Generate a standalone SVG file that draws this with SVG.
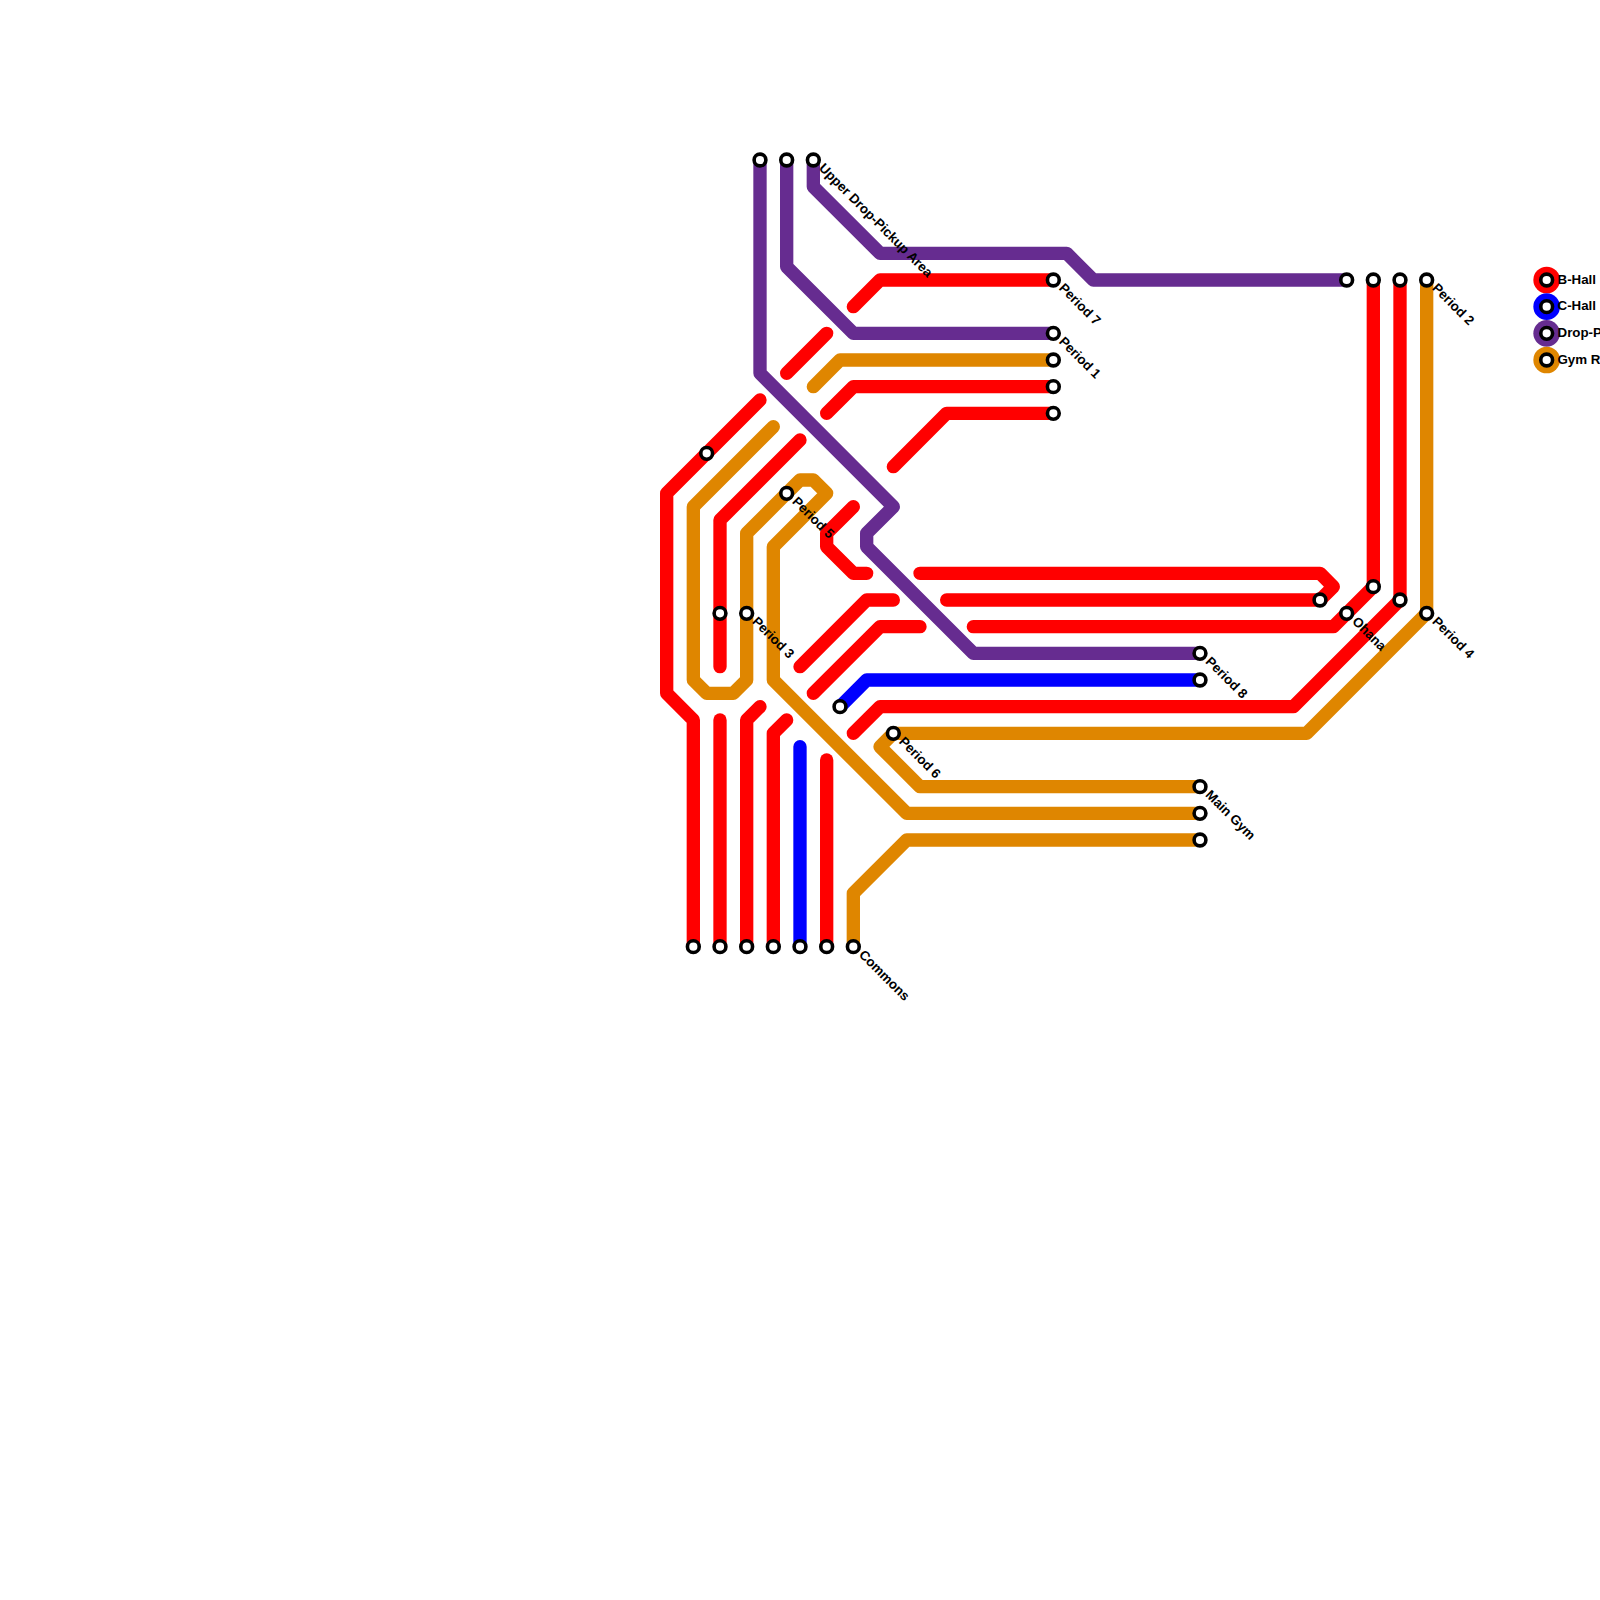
<svg xmlns="http://www.w3.org/2000/svg" width="1600" height="1600" viewBox="0 0 1600 1600">
<style>
.l{fill:none;stroke-width:13.33;stroke-linecap:round;stroke-linejoin:round}
.r{stroke:#ff0000}.b{stroke:#0000ff}.p{stroke:#662c90}.o{stroke:#df8600}
.s{fill:#fff;stroke:#000;stroke-width:3.6}
.t{font-family:"Liberation Sans",Arial,sans-serif;font-size:13.33px;font-weight:700;fill:#000}
.k{font-family:"Liberation Sans",Arial,sans-serif;font-size:13.33px;font-weight:700;fill:#000}
</style>
<rect width="1600" height="1600" fill="#fff"/>
<g id="connectors">
<path class="l p" d="M760 160V373.33L893.33 506.67L866.67 533.33V546.67L973.33 653.33H1200"/>
<path class="l p" d="M786.67 160V266.67L853.33 333.33H1053.33"/>
<path class="l p" d="M813.33 160V186.67L880 253.33H1066.67L1093.33 280H1346.67"/>
<path class="l r" d="M853.33 306.67L880 280H1053.33"/>
<path class="l r" d="M786.67 373.33L826.67 333.33"/>
<path class="l o" d="M813.33 386.67L840 360H1053.33"/>
<path class="l r" d="M826.67 413.33L853.33 386.67H1053.33"/>
<path class="l r" d="M893.33 466.67L946.67 413.33H1053.33"/>
<path class="l r" d="M760 400L666.67 493.33V693.33L693.33 720V946.67"/>
<path class="l o" d="M773.33 426.67L693.33 506.67V680L706.67 693.33H733.33L746.67 680V533.33L800 480H813.33L826.67 493.33L773.33 546.67V680L906.67 813.33H1200"/>
<path class="l r" d="M800 440L720 520V666.67"/>
<path class="l r" d="M720 720V946.67"/>
<path class="l r" d="M760 706.67L746.67 720V946.67"/>
<path class="l r" d="M786.67 720L773.33 733.33V946.67"/>
<path class="l b" d="M800 746.67V946.67"/>
<path class="l r" d="M826.67 760V946.67"/>
<path class="l o" d="M853.33 946.67V893.33L906.67 840H1200"/>
<path class="l r" d="M853.33 506.67L826.67 533.33V546.67L853.33 573.33H866.67"/>
<path class="l r" d="M800 666.67L866.67 600H893.33"/>
<path class="l r" d="M813.33 693.33L880 626.67H920"/>
<path class="l b" d="M840 706.67L866.67 680H1200"/>
<path class="l r" d="M853.33 733.33L880 706.67H1293.33L1400 600V280"/>
<path class="l o" d="M1426.67 280V613.33L1306.67 733.33H893.33L880 746.67L920 786.67H1200"/>
<path class="l r" d="M920 573.33H1320L1333.33 586.67L1320 600H946.67"/>
<path class="l r" d="M973.33 626.67H1333.33L1373.33 586.67V280"/>
</g>
<g id="stations">
<g id="st-1"><circle class="s" cx="760" cy="160" r="5.9"/></g>
<g id="st-2"><circle class="s" cx="786.67" cy="160" r="5.9"/></g>
<g id="st-upper-drop"><circle class="s" cx="813.33" cy="160" r="5.9"/><text class="t" transform="translate(821 166) rotate(45)" x="0" y="4">Upper Drop-Pickup Area</text></g>
<g id="st-period7"><circle class="s" cx="1053.33" cy="280" r="5.9"/><text class="t" transform="translate(1061 286) rotate(45)" x="0" y="4">Period 7</text></g>
<g id="st-period1"><circle class="s" cx="1053.33" cy="333.33" r="5.9"/><text class="t" transform="translate(1061 339.3) rotate(45)" x="0" y="4">Period 1</text></g>
<g id="st-3"><circle class="s" cx="1053.33" cy="360" r="5.9"/></g>
<g id="st-4"><circle class="s" cx="1053.33" cy="386.67" r="5.9"/></g>
<g id="st-5"><circle class="s" cx="1053.33" cy="413.33" r="5.9"/></g>
<g id="st-6"><circle class="s" cx="706.67" cy="453.33" r="5.9"/></g>
<g id="st-period5"><circle class="s" cx="786.67" cy="493.33" r="5.9"/><text class="t" transform="translate(794.3 499.3) rotate(45)" x="0" y="4">Period 5</text></g>
<g id="st-7"><circle class="s" cx="720" cy="613.33" r="5.9"/></g>
<g id="st-period3"><circle class="s" cx="746.67" cy="613.33" r="5.9"/><text class="t" transform="translate(754.3 619.3) rotate(45)" x="0" y="4">Period 3</text></g>
<g id="st-8"><circle class="s" cx="840" cy="706.67" r="5.9"/></g>
<g id="st-period6"><circle class="s" cx="893.33" cy="733.33" r="5.9"/><text class="t" transform="translate(901 739.3) rotate(45)" x="0" y="4">Period 6</text></g>
<g id="st-9"><circle class="s" cx="693.33" cy="946.67" r="5.9"/></g>
<g id="st-10"><circle class="s" cx="720" cy="946.67" r="5.9"/></g>
<g id="st-11"><circle class="s" cx="746.67" cy="946.67" r="5.9"/></g>
<g id="st-12"><circle class="s" cx="773.33" cy="946.67" r="5.9"/></g>
<g id="st-13"><circle class="s" cx="800" cy="946.67" r="5.9"/></g>
<g id="st-14"><circle class="s" cx="826.67" cy="946.67" r="5.9"/></g>
<g id="st-commons"><circle class="s" cx="853.33" cy="946.67" r="5.9"/><text class="t" transform="translate(861 952.7) rotate(45)" x="0" y="4">Commons</text></g>
<g id="st-period8"><circle class="s" cx="1200" cy="653.33" r="5.9"/><text class="t" transform="translate(1207.7 659.3) rotate(45)" x="0" y="4">Period 8</text></g>
<g id="st-15"><circle class="s" cx="1200" cy="680" r="5.9"/></g>
<g id="st-maingym"><circle class="s" cx="1200" cy="786.67" r="5.9"/><text class="t" transform="translate(1207.7 792.7) rotate(45)" x="0" y="4">Main Gym</text></g>
<g id="st-16"><circle class="s" cx="1200" cy="813.33" r="5.9"/></g>
<g id="st-17"><circle class="s" cx="1200" cy="840" r="5.9"/></g>
<g id="st-18"><circle class="s" cx="1320" cy="600" r="5.9"/></g>
<g id="st-ohana"><circle class="s" cx="1346.67" cy="613.33" r="5.9"/><text class="t" transform="translate(1354.3 619.3) rotate(45)" x="0" y="4">Ohana</text></g>
<g id="st-19"><circle class="s" cx="1373.33" cy="586.67" r="5.9"/></g>
<g id="st-20"><circle class="s" cx="1400" cy="600" r="5.9"/></g>
<g id="st-period4"><circle class="s" cx="1426.67" cy="613.33" r="5.9"/><text class="t" transform="translate(1434.3 619.3) rotate(45)" x="0" y="4">Period 4</text></g>
<g id="st-21"><circle class="s" cx="1346.67" cy="280" r="5.9"/></g>
<g id="st-22"><circle class="s" cx="1373.33" cy="280" r="5.9"/></g>
<g id="st-23"><circle class="s" cx="1400" cy="280" r="5.9"/></g>
<g id="st-period2"><circle class="s" cx="1426.67" cy="280" r="5.9"/><text class="t" transform="translate(1434.3 286) rotate(45)" x="0" y="4">Period 2</text></g>
</g>
<g id="legend">
<g id="key-b"><circle cx="1546.67" cy="280" r="13.33" fill="#ff0000"/><circle class="s" cx="1546.67" cy="280" r="5.9"/><text class="k" x="1557.5" y="283.5">B-Hall</text></g>
<g id="key-c"><circle cx="1546.67" cy="306.67" r="13.33" fill="#0000ff"/><circle class="s" cx="1546.67" cy="306.67" r="5.9"/><text class="k" x="1557.5" y="310">C-Hall</text></g>
<g id="key-d"><circle cx="1546.67" cy="333.33" r="13.33" fill="#662c90"/><circle class="s" cx="1546.67" cy="333.33" r="5.9"/><text class="k" x="1557.5" y="337">Drop-P</text></g>
<g id="key-g"><circle cx="1546.67" cy="360" r="13.33" fill="#df8600"/><circle class="s" cx="1546.67" cy="360" r="5.9"/><text class="k" x="1557.5" y="363.5">Gym R</text></g>
</g>
</svg>
